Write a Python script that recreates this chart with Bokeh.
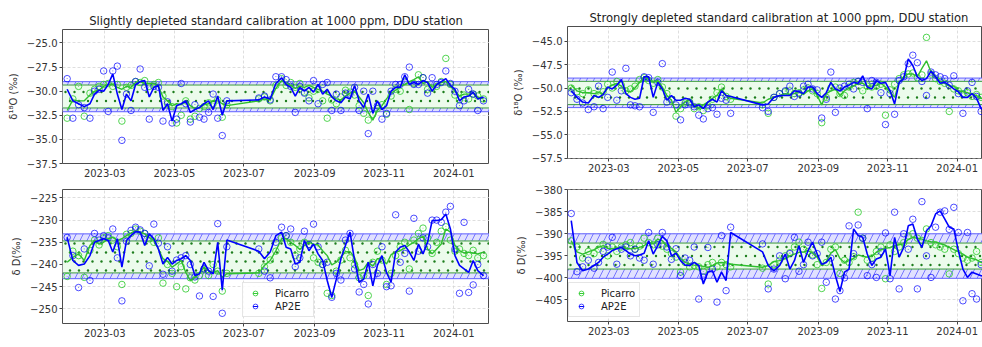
import numpy as np
import pandas as pd
from bokeh.plotting import figure
from bokeh.layouts import row, column
from bokeh.models import (BoxAnnotation, Span, FixedTicker, DatetimeTickFormatter,
                          CustomJSTickFormatter, Legend, LegendItem, Label, Range1d)
from bokeh.embed import file_html
from bokeh.resources import INLINE

# ---------------- data ----------------
dates = ["2023-01-27", "2023-02-01", "2023-02-06", "2023-02-11", "2023-02-16", "2023-02-20",
         "2023-02-24", "2023-02-28", "2023-03-04", "2023-03-08", "2023-03-12", "2023-03-16",
         "2023-03-20", "2023-03-24", "2023-03-28", "2023-04-01", "2023-04-05", "2023-04-09",
         "2023-04-13", "2023-04-17", "2023-04-21", "2023-04-25", "2023-04-29", "2023-05-03",
         "2023-05-07", "2023-05-11", "2023-05-15", "2023-05-19", "2023-05-23", "2023-05-27",
         "2023-05-31", "2023-06-04", "2023-06-08", "2023-06-12", "2023-06-16", "2023-07-14",
         "2023-07-19", "2023-07-24", "2023-07-29", "2023-08-03", "2023-08-07", "2023-08-11",
         "2023-08-15", "2023-08-19", "2023-08-23", "2023-08-27", "2023-08-31", "2023-09-04",
         "2023-09-08", "2023-09-12", "2023-09-16", "2023-09-20", "2023-09-24", "2023-09-28",
         "2023-10-02", "2023-10-06", "2023-10-10", "2023-10-14", "2023-10-18", "2023-10-22",
         "2023-10-26", "2023-10-30", "2023-11-03", "2023-11-07", "2023-11-11", "2023-11-15",
         "2023-11-19", "2023-11-23", "2023-11-27", "2023-12-01", "2023-12-05", "2023-12-09",
         "2023-12-13", "2023-12-17", "2023-12-21", "2023-12-25", "2023-12-29", "2024-01-02",
         "2024-01-06", "2024-01-10", "2024-01-14", "2024-01-18", "2024-01-22", "2024-01-27"]

# Slightly depleted standard, d18O
sl_o18_pic_pts = [-32.8, -30.8, -29.5, -32.6, -30.2, -29.8, -29.5, -29.3, -29.2, -29.5,
                  -29.3, -33.1, -29.6, -29.4, -29.0, -29.1, -28.9, -29.5, -29.3, -29.1,
                  -30.5, -31.3, -31.6, -33.3, -32.5, -31.0, -32.9, -32.6, -31.8, -31.6,
                  -31.2, -31.3, -30.9, -32.7, -31.4, -30.8, -30.6, -31.0, -29.4,
                  -28.7, -29.4, -29.1, -29.6, -29.2, -30.1, -30.7, -30.0, -29.8, -31.0,
                  -32.8, -30.9, -31.3, -30.6, -29.9, -30.1, -30.4, -31.5, -32.3, -33.0,
                  -32.4, -31.8, -31.4, -32.4, -30.5, -29.8, -30.0, -29.0, -31.9, -29.2,
                  -28.3, -28.6, -29.8, -29.7, -29.5, -29.0, -26.6, -29.3, -30.4, -30.9,
                  -30.4, -30.8, -30.3, -30.5, -30.8]
sl_o18_pic_line = [-32.0, -30.9, -31.0, -31.0, -30.4, -30.0, -29.9, -29.5, -29.3, -29.3,
                   -29.6, -29.8, -29.5, -29.6, -29.1, -29.0, -29.2, -29.2, -29.2, -29.5,
                   -30.6, -31.0, -31.5, -31.3, -31.4, -31.0, -31.5, -31.8, -31.7, -31.4,
                   -31.3, -31.0, -31.0, -31.3, -31.5, -31.0, -30.8, -30.9, -29.7,
                   -28.9, -29.2, -29.4, -29.7, -29.5, -29.6, -29.4, -29.6, -29.8, -30.0,
                   -30.3, -30.5, -30.8, -30.9, -30.5, -30.2, -30.0, -30.6, -31.2, -32.2,
                   -33.0, -32.0, -31.5, -30.8, -30.2, -29.9, -29.5, -29.3, -29.0, -28.8,
                   -28.5, -29.2, -29.0, -29.6, -29.3, -29.1, -29.0, -29.5, -30.0, -30.5,
                   -30.3, -30.3, -30.2, -30.6, -30.8]
sl_o18_ap_pts = [-28.7, -32.8, -31.4, -31.7, -32.8, -30.0, -29.8, -27.9, -32.1, -27.9,
                 -27.4, -35.1, -30.3, -32.0, -29.0, -27.7, -29.6, -32.9, -29.5, -29.6,
                 -33.1, -31.1, -33.3, -32.9, -29.2, -31.3, -33.2, -31.4, -32.7, -32.9,
                 -32.2, -30.3, -32.8, -34.6, -31.0, -30.7, -30.5, -30.9, -28.5,
                 -28.5, -28.8, -29.5, -32.2, -29.5, -30.2, -31.0, -28.9, -31.3, -29.3,
                 -29.1, -32.0, -30.3, -32.0, -30.2, -30.3, -29.6, -32.0, -30.0, -34.4,
                 -30.0, -31.5, -32.9, -32.3, -30.0, -29.3, -29.3, -28.5, -27.5, -29.3,
                 -29.3, -28.6, -30.2, -28.6, -29.3, -29.1, -27.9, -29.2, -30.0, -31.5,
                 -31.0, -29.8, -30.3, -32.0, -31.0]
sl_o18_ap_line = [-29.8, -31.0, -31.3, -31.6, -31.3, -30.3, -29.9, -30.0, -29.3, -28.2,
                  -30.3, -31.9, -30.3, -31.0, -29.3, -29.0, -28.9, -30.6, -29.6, -29.4,
                  -32.0, -31.3, -33.1, -31.5, -31.3, -31.0, -32.2, -31.9, -31.7, -31.3,
                  -31.0, -31.9, -30.5, -32.5, -31.0, -30.9, -30.6, -30.8, -29.2,
                  -28.6, -29.3, -29.6, -30.5, -29.6, -30.0, -29.6, -30.1, -29.3, -30.3,
                  -29.8, -30.6, -31.0, -31.2, -30.6, -30.8, -29.4, -31.0, -31.7, -30.3,
                  -32.3, -31.0, -31.9, -31.5, -30.0, -29.6, -29.6, -28.3, -29.3, -29.1,
                  -29.3, -28.9, -29.1, -30.0, -29.3, -29.0, -28.7, -29.4, -29.8, -31.0,
                  -30.6, -30.5, -30.1, -30.8, -30.6]

# Slightly depleted standard, dD
sl_dd_pic_pts = [-242.7, -237.0, -238.0, -242.9, -236.8, -234.5, -235.6, -234.0, -233.5, -234.5,
                 -236.0, -244.5, -233.2, -233.0, -232.0, -232.5, -233.0, -234.2, -235.0, -234.0,
                 -244.2, -240.0, -242.0, -245.0, -240.5, -245.5, -243.0, -243.5, -242.5, -241.0,
                 -242.5, -240.0, -241.5, -246.0, -242.0, -242.0, -240.5, -239.0, -237.0,
                 -234.0, -233.5, -235.0, -238.0, -236.5, -235.0, -235.5, -238.5, -239.5, -240.0,
                 -246.5, -247.0, -241.5, -239.0, -236.8, -238.5, -240.0, -243.0, -242.5, -247.0,
                 -239.5, -237.0, -239.0, -244.5, -242.0, -238.0, -236.0, -235.0, -241.0, -234.5,
                 -233.0, -231.8, -234.0, -237.5, -235.0, -232.5, -231.5, -234.5, -237.0, -236.5,
                 -237.5, -238.0, -236.8, -238.5, -238.0]
sl_dd_pic_line = [-239.5, -238.4, -237.6, -239.1, -235.7, -234.6, -235.4, -235.0, -234.2, -233.9,
                  -234.6, -234.2, -233.5, -232.9, -232.4, -232.7, -233.1, -233.9, -234.6, -236.5,
                  -238.7, -239.3, -240.6, -239.9, -239.1, -241.8, -243.6, -242.9, -242.1, -240.6,
                  -241.4, -241.8, -241.4, -242.9, -242.1, -241.9, -240.2, -239.1, -236.9,
                  -234.2, -234.2, -235.0, -235.7, -236.6, -235.7, -235.0, -235.4, -235.6, -236.9,
                  -238.0, -240.1, -239.5, -238.4, -237.1, -237.1, -238.4, -241.4, -241.0, -239.5,
                  -240.4, -238.7, -238.7, -239.9, -237.8, -237.2, -236.9, -236.3, -235.6, -235.0,
                  -234.2, -233.6, -236.5, -237.6, -236.5, -235.4, -232.0, -232.7, -235.7, -236.9,
                  -237.4, -237.2, -237.4, -237.6, -237.2]
sl_dd_ap_pts = [-233.9, -238.0, -245.2, -236.5, -243.6, -233.0, -234.5, -233.5, -234.0, -232.0,
                -238.5, -248.2, -234.8, -232.3, -231.6, -232.2, -233.0, -240.3, -230.9, -235.2,
                -242.2, -236.0, -241.5, -239.0, -238.5, -238.0, -240.0, -242.8, -247.1, -241.0,
                -241.5, -247.2, -230.8, -251.0, -236.0, -236.5, -241.5, -243.0, -235.0,
                -231.6, -233.5, -232.0, -240.5, -238.5, -232.5, -235.5, -230.9, -236.0, -240.0,
                -239.5, -247.4, -242.0, -243.5, -234.5, -233.0, -241.0, -246.2, -244.5, -248.9,
                -240.0, -242.0, -236.0, -245.0, -244.8, -228.8, -239.5, -237.5, -246.0, -229.6,
                -237.0, -234.0, -236.0, -230.0, -230.0, -230.5, -228.2, -226.9, -236.5, -246.5,
                -230.5, -246.3, -244.6, -240.0, -242.5]
sl_dd_ap_line = [-233.9, -239.1, -240.2, -239.9, -238.0, -235.0, -234.6, -234.2, -234.6, -237.2,
                 -234.2, -240.6, -234.6, -233.5, -232.6, -232.7, -235.7, -233.1, -234.2, -236.5,
                 -239.9, -238.4, -239.9, -239.1, -238.7, -238.0, -239.1, -242.5, -242.1, -239.5,
                 -241.4, -242.1, -235.0, -245.8, -234.5, -237.0, -238.7, -237.2, -233.5,
                 -232.7, -236.1, -236.5, -239.9, -239.5, -234.6, -236.9, -235.4, -237.6, -239.1,
                 -243.6, -247.4, -243.3, -238.7, -235.7, -232.7, -239.1, -244.0, -243.3, -239.5,
                 -244.8, -240.2, -238.0, -241.8, -244.0, -237.2, -236.1, -235.7, -237.2, -239.1,
                 -235.4, -237.6, -235.0, -230.1, -230.1, -229.9, -228.6, -232.0, -238.0, -240.2,
                 -241.0, -241.8, -239.1, -241.4, -242.5]

# Strongly depleted standard, d18O
st_o18_pic_pts = [-50.0, -50.4, -50.6, -50.2, -50.6, -50.7, -50.4, -49.6, -50.0, -49.3,
                  -49.7, -50.3, -50.1, -49.8, -49.1, -48.9, -49.2, -49.5, -49.1, -49.9,
                  -50.6, -51.3, -53.0, -52.2, -51.6, -51.5, -52.2, -52.0, -52.4, -51.9,
                  -51.2, -50.5, -49.9, -50.9, -51.2, -51.8, -52.7, -51.0, -50.6,
                  -50.4, -50.3, -50.6, -50.5, -50.2, -50.0, -50.3, -50.6, -53.7, -51.0,
                  -50.0, -49.9, -50.6, -50.8, -49.9, -49.4, -49.3, -50.3, -49.8, -49.9,
                  -49.8, -49.6, -52.9, -50.2, -49.6, -49.0, -48.6, -48.5, -48.4, -48.9,
                  -48.6, -44.6, -48.5, -49.0, -49.3, -49.5, -52.5, -50.1, -50.3, -50.6,
                  -50.5, -50.9, -50.7, -51.0, -51.2]
st_o18_pic_line = [-49.7, -50.3, -50.5, -50.5, -50.6, -50.5, -50.6, -50.0, -49.7, -49.5,
                   -49.8, -50.3, -50.4, -50.0, -49.4, -48.8, -49.1, -49.4, -49.2, -49.9,
                   -50.8, -51.3, -52.6, -52.0, -51.5, -51.3, -51.8, -52.2, -51.8, -51.5,
                   -51.1, -50.8, -50.1, -50.8, -51.1, -51.6, -51.2, -51.0, -50.8,
                   -50.6, -50.7, -50.6, -50.4, -50.7, -50.3, -50.1, -50.8, -51.8, -50.6,
                   -50.3, -50.1, -50.8, -50.3, -50.0, -49.8, -49.5, -49.5, -49.8, -49.8,
                   -49.7, -49.5, -49.9, -50.4, -51.0, -49.4, -48.8, -48.5, -48.5, -48.8,
                   -47.9, -47.1, -48.3, -48.9, -49.3, -49.5, -49.8, -49.8, -50.3, -50.4,
                   -50.5, -50.7, -50.8, -51.1, -51.3]
st_o18_ap_pts = [-50.5, -51.2, -51.6, -52.3, -52.0, -49.8, -52.2, -51.0, -48.3, -51.3,
                 -50.3, -47.9, -51.8, -51.9, -52.0, -48.8, -48.9, -52.6, -49.4, -47.4,
                 -51.5, -51.2, -51.8, -53.4, -51.8, -51.6, -52.0, -52.9, -53.3, -52.2,
                 -52.1, -52.8, -51.1, -51.3, -52.7, -52.1, -52.5, -51.0, -50.6,
                 -50.3, -49.8, -50.9, -50.6, -49.8, -49.6, -50.1, -50.2, -53.2, -51.2,
                 -48.3, -52.6, -50.0, -49.8, -49.6, -50.1, -49.3, -49.4, -52.2, -49.2,
                 -49.4, -50.5, -53.9, -50.6, -52.8, -49.2, -48.8, -47.4, -46.5, -47.3,
                 -49.3, -50.8, -48.3, -48.6, -48.8, -49.0, -49.7, -48.7, -50.6, -52.7,
                 -50.3, -49.4, -50.9, -52.5, -53.6]
st_o18_ap_line = [-50.3, -51.0, -51.5, -51.6, -50.8, -51.0, -50.7, -49.9, -50.1, -49.7,
                  -49.1, -50.6, -51.0, -51.2, -51.1, -48.8, -48.8, -51.0, -49.4, -50.1,
                  -51.3, -50.8, -51.3, -51.3, -51.1, -51.2, -52.0, -51.8, -52.2, -51.5,
                  -51.2, -51.5, -50.3, -50.8, -50.9, -51.8, -51.7, -51.0, -50.8,
                  -50.8, -50.8, -50.3, -50.4, -50.6, -49.9, -49.9, -50.6, -51.0, -50.5,
                  -49.4, -50.1, -50.3, -49.9, -49.7, -49.4, -49.5, -48.7, -49.9, -50.1,
                  -49.2, -49.5, -49.4, -50.3, -51.7, -49.4, -49.0, -46.9, -47.6, -48.8,
                  -49.2, -49.0, -48.2, -48.8, -49.5, -49.4, -49.7, -50.1, -50.4, -51.0,
                  -51.0, -50.6, -51.1, -52.2, -52.6]

# Strongly depleted standard, dD
st_dd_pic_pts = [-391.6, -393.0, -395.5, -394.0, -394.5, -393.5, -392.4, -395.0, -393.0, -394.0,
                 -393.0, -392.5, -392.0, -393.5, -392.8, -391.0, -392.0, -392.5, -391.0, -392.8,
                 -393.5, -394.5, -395.3, -398.7, -396.5, -397.5, -397.2, -397.5, -398.5, -397.0,
                 -396.5, -397.5, -396.5, -397.0, -397.5, -397.8, -401.4, -397.0, -396.0,
                 -395.0, -394.3, -393.0, -391.9, -393.5, -394.0, -394.8, -397.0, -402.4, -396.5,
                 -393.5, -393.0, -399.0, -396.0, -396.5, -395.2, -385.1, -391.0, -396.0, -395.5,
                 -394.0, -393.0, -400.2, -392.5, -394.0, -393.0, -392.0, -390.5, -390.0, -391.0,
                 -391.5, -388.9, -392.0, -392.5, -393.0, -393.5, -399.1, -393.5, -394.5, -395.5,
                 -396.0, -395.5, -394.0, -396.5, -397.0]
st_dd_pic_line = [-391.6, -394.1, -394.6, -394.1, -393.6, -393.1, -392.7, -393.3, -393.4, -393.2,
                  -393.1, -393.4, -393.4, -393.3, -393.1, -392.7, -391.9, -392.3, -391.2, -391.6,
                  -392.7, -393.3, -394.1, -395.6, -396.5, -396.9, -397.1, -397.2, -397.4, -397.6,
                  -397.2, -396.6, -396.5, -396.6, -396.9, -397.6, -397.2, -396.3, -396.1,
                  -395.6, -395.0, -394.6, -394.2, -394.1, -393.8, -394.4, -395.3, -397.2, -396.3,
                  -394.4, -393.6, -395.6, -396.5, -396.1, -395.6, -394.8, -395.1, -395.3, -395.1,
                  -394.2, -393.6, -393.3, -393.1, -392.7, -392.5, -392.3, -391.3, -390.8, -391.0,
                  -391.2, -391.6, -391.8, -391.9, -392.2, -392.5, -393.1, -393.6, -394.1, -394.6,
                  -395.3, -395.6, -395.9, -396.5, -396.6]
st_dd_ap_pts = [-385.4, -398.6, -397.5, -396.0, -397.8, -396.5, -394.0, -393.0, -390.8, -396.9,
                -393.5, -393.0, -395.0, -393.5, -395.5, -396.0, -389.7, -396.9, -392.5, -389.7,
                -393.0, -395.8, -393.4, -399.5, -395.5, -396.0, -393.0, -404.8, -399.8, -393.1,
                -398.0, -405.5, -390.4, -402.9, -388.5, -392.3, -402.5, -398.0, -395.0,
                -400.2, -394.5, -390.8, -398.5, -397.0, -391.9, -395.0, -394.5, -391.9, -401.0,
                -395.5, -404.8, -402.9, -400.0, -388.2, -394.5, -388.0, -391.0, -399.5, -397.0,
                -399.9, -394.0, -389.8, -400.2, -385.1, -402.5, -390.0, -393.5, -386.7, -402.5,
                -382.7, -395.0, -399.9, -388.5, -385.1, -384.8, -389.0, -384.0, -389.7, -405.2,
                -389.7, -403.6, -404.8, -397.0, -398.5]
st_dd_ap_line = [-387.0, -396.5, -398.4, -398.0, -397.2, -396.5, -395.3, -394.6, -393.8, -393.4,
                 -393.1, -393.8, -394.6, -395.0, -394.8, -394.4, -391.6, -394.6, -392.7, -390.6,
                 -391.6, -395.0, -394.4, -396.1, -397.1, -397.2, -396.5, -397.2, -401.4, -398.7,
                 -398.4, -401.0, -398.7, -400.6, -389.7, -394.1, -397.2, -398.4, -397.2,
                 -394.6, -398.0, -396.1, -392.7, -396.5, -393.8, -391.9, -394.6, -396.9, -396.5,
                 -395.3, -399.5, -403.1, -398.7, -398.0, -388.9, -390.4, -390.8, -394.6, -397.2,
                 -395.7, -395.3, -393.4, -399.5, -390.8, -395.3, -393.1, -388.2, -387.8, -391.2,
                 -393.1, -389.3, -388.2, -385.5, -384.8, -386.6, -388.5, -388.9, -393.8, -398.0,
                 -399.9, -398.7, -399.1, -399.5, -399.9]

# uncertainty bands [low, high]
sl_o18_pic_band = [-31.74, -29.36]
sl_o18_ap_band = [-32.13, -29.01]
sl_dd_pic_band = [-241.9, -234.7]
sl_dd_ap_band = [-243.2, -233.1]
st_o18_pic_band = [-51.77, -49.29]
st_o18_ap_band = [-52.09, -48.94]
st_dd_pic_band = [-398.0, -392.1]
st_dd_ap_band = [-400.1, -390.0]

titles = ["Slightly depleted standard calibration at 1000 ppm, DDU station",
          "Strongly depleted standard calibration at 1000 ppm, DDU station"]
x_tick_dates = ["2023-03-01", "2023-05-01", "2023-07-01", "2023-09-01", "2023-11-01", "2024-01-01"]
sl_o18_ticks = [-37.5, -35.0, -32.5, -30.0, -27.5, -25.0]
sl_dd_ticks = [-250, -245, -240, -235, -230, -225]
st_o18_ticks = [-57.5, -55.0, -52.5, -50.0, -47.5, -45.0]
st_dd_ticks = [-405, -400, -395, -390, -385, -380]
series_names = ["Picarro", "AP2E"]

# ---------------- styling ----------------
FONT = "DejaVu Sans"
AP_COLOR = "#0000ff"
PIC_COLOR = "#32cd32"
DOT_STEP = 9.0   # px spacing of the '.' hatch of the Picarro band
X = pd.to_datetime(dates)


def fmt(decimals):
    return CustomJSTickFormatter(code="""
        const s = Math.abs(tick).toFixed(%d);
        return (tick < 0 ? '\u2212' : '') + s;
    """ % decimals)


def dot_hatch(xr, yr, band, fw, fh, nrows):
    """Positions of a staggered small-dot hatch filling the band (decoration)."""
    x0, x1 = pd.Timestamp(xr[0]), pd.Timestamp(xr[1])
    ppu = fh / (yr[1] - yr[0])
    height = (band[1] - band[0]) * ppu
    start = (height - (nrows - 1) * DOT_STEP) / 2.0
    xs, ys = [], []
    for r in range(nrows):
        yv = band[1] - (start + r * DOT_STEP) / ppu
        px = 3.0 + (DOT_STEP / 2.0 if r % 2 else 0.0)
        while px < fw:
            xs.append(x0 + (x1 - x0) * (px / fw))
            ys.append(yv)
            px += DOT_STEP
    return xs, ys


def panel(title, ylabel, yr, yticks, dec, pic_pts, pic_line, ap_pts, ap_line,
          pic_band, ap_band, xr, ml, fw, mt, fh, mb, dot_rows, legend_loc=None, date_xy=None,
          title_offset=None):
    p = figure(x_axis_type="datetime", frame_width=fw, frame_height=fh,
               min_border_left=ml, min_border_right=0, min_border_top=mt, min_border_bottom=mb,
               x_range=Range1d(pd.Timestamp(xr[0]), pd.Timestamp(xr[1])),
               y_range=Range1d(yr[0], yr[1]),
               output_backend="svg", toolbar_location=None, title=title)
    p.background_fill_color = "white"
    p.border_fill_color = "white"
    p.outline_line_color = "#4d4d4d"
    p.outline_line_width = 1
    if title:
        p.title.text_font = FONT
        p.title.text_font_size = "11.6px"
        p.title.text_font_style = "normal"
        p.title.text_color = "#222222"
        if title_offset is None:
            p.title.align = "center"
        else:
            p.title.align = "left"
            p.title.offset = title_offset
        p.title.standoff = 3
    p.grid.grid_line_color = "#d6d6d6"
    p.grid.grid_line_dash = "3 2"
    p.grid.grid_line_width = 0.8

    p.xaxis.ticker = FixedTicker(ticks=[pd.Timestamp(d).value / 1e6 for d in x_tick_dates])
    p.xaxis.formatter = DatetimeTickFormatter(days="%Y-%m", months="%Y-%m", years="%Y-%m")
    p.yaxis.ticker = FixedTicker(ticks=yticks)
    p.yaxis.formatter = fmt(dec)
    p.xgrid.ticker = p.xaxis.ticker
    p.ygrid.ticker = p.yaxis.ticker
    for ax in (p.xaxis[0], p.yaxis[0]):
        ax.axis_line_color = None
        ax.major_tick_out = 3
        ax.major_tick_in = 0
        ax.minor_tick_line_color = None
        ax.major_tick_line_color = "#444444"
        ax.major_label_text_font = FONT
        ax.major_label_text_font_size = "10px"
        ax.major_label_text_color = "#333333"
        ax.major_label_standoff = 2
    p.yaxis.axis_label = ylabel
    p.yaxis.axis_label_text_font = FONT
    p.yaxis.axis_label_text_font_size = "10px"
    p.yaxis.axis_label_text_font_style = "normal"
    p.yaxis.axis_label_text_color = "#333333"
    p.yaxis.axis_label_standoff = 5

    # AP2E band (blue, hatched) then Picarro band (green, dotted) on top
    p.add_layout(BoxAnnotation(bottom=ap_band[0], top=ap_band[1], fill_color="#e0e0ff", fill_alpha=1.0,
                               hatch_pattern="/", hatch_color="#5a5aff", hatch_scale=14, hatch_weight=0.8,
                               line_color=None, level="underlay"))
    p.add_layout(BoxAnnotation(bottom=pic_band[0], top=pic_band[1], fill_color="#ecfbec", fill_alpha=1.0,
                               line_color=None, level="underlay"))
    for v in ap_band:
        p.add_layout(Span(location=v, dimension="width", line_color="#6060ff", line_width=1, level="underlay"))
    for v in pic_band:
        p.add_layout(Span(location=v, dimension="width", line_color="#3c9c3c", line_width=1, level="underlay"))
    hx, hy = dot_hatch(xr, yr, pic_band, fw, fh, dot_rows)
    p.scatter(hx, hy, size=2.4, marker="circle", fill_color="#1d7d1d", line_color=None)

    pc = p.scatter(X, pic_pts, size=6.5, marker="circle", fill_color=None, line_color=PIC_COLOR,
                   line_alpha=0.85, line_width=1)
    ac = p.scatter(X, ap_pts, size=6.5, marker="circle", fill_color=None, line_color=AP_COLOR,
                   line_alpha=0.7, line_width=1)
    # (tiny) error bars of each measurement, also used as legend handle
    pb = p.scatter(X, pic_pts, size=0.5, marker="dash", angle=np.pi / 2, line_color=PIC_COLOR, line_width=1)
    ab = p.scatter(X, ap_pts, size=0.5, marker="dash", angle=np.pi / 2, line_color=AP_COLOR, line_width=1)
    p.line(X, pic_line, line_color="#2fbf2f", line_width=1.4)
    p.line(X, ap_line, line_color=AP_COLOR, line_width=1.6)

    if legend_loc is not None:
        leg = Legend(items=[LegendItem(label=series_names[0], renderers=[pc, pb]),
                            LegendItem(label=series_names[1], renderers=[ac, ab])],
                     location=legend_loc)
        leg.label_text_font = FONT
        leg.label_text_font_size = "10px"
        leg.label_text_color = "#222222"
        leg.glyph_width = 16
        leg.glyph_height = 12
        leg.label_height = 12
        leg.label_standoff = 12
        leg.padding = 4
        leg.spacing = 1
        leg.margin = 0
        leg.border_line_color = "#cccccc"
        leg.background_fill_alpha = 0.85
        p.add_layout(leg)
    if date_xy is not None:
        p.add_layout(Label(x=date_xy[0], y=date_xy[1], x_units="screen", y_units="screen", text="Date",
                           text_align="center", text_baseline="top", text_font=FONT,
                           text_font_size="10px", text_color="#333333"))
    return p


left_xr = ("2023-01-22 22:00", "2024-02-01 07:00")
right_xr = ("2023-01-23 17:00", "2024-01-23 05:00")

tl = panel(titles[0], "δ¹⁸O (‰)", (-37.5, -23.6), sl_o18_ticks, 1,
           sl_o18_pic_pts, sl_o18_pic_line, sl_o18_ap_pts, sl_o18_ap_line,
           sl_o18_pic_band, sl_o18_ap_band, left_xr, 62, 427, 29, 134, 18, 2)
bl = panel(None, "δ D(‰)", (-253.3, -223.1), sl_dd_ticks, 0,
           sl_dd_pic_pts, sl_dd_pic_line, sl_dd_ap_pts, sl_dd_ap_line,
           sl_dd_pic_band, sl_dd_ap_band, left_xr, 62, 427, 8, 134, 24, 4,
           legend_loc=(180, 6), date_xy=(213, -13))
tr = panel(titles[1], "δ¹⁸O (‰)", (-57.52, -43.44), st_o18_ticks, 1,
           st_o18_pic_pts, st_o18_pic_line, st_o18_ap_pts, st_o18_ap_line,
           st_o18_pic_band, st_o18_ap_band, right_xr, 78, 415, 26, 132, 23, 2, title_offset=22)
br = panel(None, "δ D(‰)", (-409.9, -379.95), st_dd_ticks, 0,
           st_dd_pic_pts, st_dd_pic_line, st_dd_ap_pts, st_dd_ap_line,
           st_dd_pic_band, st_dd_ap_band, right_xr, 78, 415, 8, 132, 26, 3,
           legend_loc=(1, 4), date_xy=(212, -15))

layout = row(column(tl, bl), column(tr, br))
open("out.html", "w").write(file_html(layout, INLINE))
